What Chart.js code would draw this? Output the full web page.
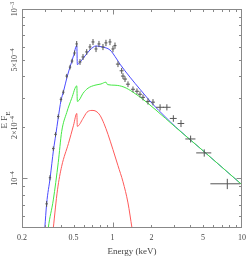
<!DOCTYPE html>
<html lang="en">
<head>
<meta charset="utf-8">
<title>E F_E spectrum</title>
<style>
  html, body { margin: 0; padding: 0; background: #fff; }
  #spec { display: block; }
</style>
</head>
<body>
<canvas id="spec" width="247" height="256"></canvas>
<script src="https://cdn.jsdelivr.net/npm/chart.js"></script>
<script>
// observed spectrum: energy (keV) and E F_E in units of 1e-4
const dataE    = [0.310,0.329,0.349,0.363,0.381,0.400,0.417,0.443,0.470,0.487,0.509,0.529,0.561,0.592,0.632,0.670,0.707,0.746,0.786,0.844,0.890,0.956,1.008,1.045,1.102,1.177,1.205,1.249,1.317,1.439,1.545,1.630,1.720,1.879,2.054,2.330,2.630,2.950,3.380,4.010,5.110,7.700];
const dataEerr = [0.007,0.007,0.008,0.008,0.008,0.009,0.009,0.010,0.010,0.011,0.011,0.012,0.015,0.016,0.017,0.018,0.019,0.020,0.021,0.023,0.024,0.026,0.027,0.028,0.040,0.042,0.043,0.045,0.047,0.052,0.056,0.059,0.062,0.068,0.074,0.160,0.180,0.180,0.200,0.360,0.680,2.000];
const dataF    = [0.708,1.01,1.50,1.82,2.32,2.93,3.23,4.02,4.54,4.93,5.50,6.22,4.87,5.21,5.58,5.97,6.39,5.81,6.22,5.97,6.31,6.39,5.81,6.08,4.73,4.32,4.02,3.86,3.60,3.36,3.27,3.14,3.01,2.85,2.82,2.63,2.63,2.26,2.11,1.71,1.415,0.93];
const dataFerr = [0.028,0.035,0.045,0.055,0.07,0.09,0.10,0.12,0.14,0.15,0.19,0.25,0.19,0.21,0.22,0.24,0.26,0.24,0.26,0.25,0.27,0.27,0.25,0.26,0.19,0.17,0.16,0.15,0.14,0.13,0.13,0.13,0.12,0.12,0.12,0.11,0.11,0.10,0.10,0.08,0.07,0.065];

// model: total (blue)
const totalE = [0.290,0.300,0.310,0.330,0.350,0.365,0.380,0.400,0.420,0.445,0.470,0.500,0.530,0.535,0.560,0.613,0.670,0.746,0.830,0.956,1.077,1.142,1.365,1.630,2.050,2.540,3.080,4.740,10.0];
const totalF = [0.37,0.51,0.71,1.01,1.47,1.82,2.25,2.88,3.30,3.95,4.55,5.30,6.10,4.70,4.85,5.28,5.73,6.05,5.97,5.73,5.07,4.73,3.96,3.36,2.74,2.32,2.01,1.51,0.918];
// model: power law (green)
const plE = [0.305,0.312,0.319,0.349,0.381,0.405,0.443,0.484,0.530,0.535,0.551,0.592,0.647,0.732,0.815,0.890,0.915,1.045,1.227,1.439,1.720,2.130,3.080,4.740,10.0];
const plF = [0.36,0.433,0.51,0.747,1.24,1.89,2.45,2.97,3.52,2.85,2.89,3.18,3.41,3.55,3.61,3.70,3.58,3.55,3.46,3.23,2.93,2.56,2.00,1.51,0.918];
// model: soft component (red)
const softE = [0.341,0.349,0.376,0.405,0.457,0.500,0.530,0.535,0.592,0.635,0.694,0.746,0.800,0.859,0.923,1.008,1.102,1.205,1.317,1.414,1.465];
const softF = [0.433,0.51,0.857,1.18,1.61,2.06,2.42,2.03,2.26,2.46,2.52,2.49,2.36,2.11,1.82,1.48,1.19,0.956,0.717,0.51,0.433];

const xTicks = [0.2, 0.5, 1, 2, 5, 10];
const xTickLabels = ['0.2', '0.5', '1', '2', '5', '10'];
const yTicks = [1e-4, 2e-4, 5e-4, 1e-3];
const yTickLabels = [['10', '\u22124'], ['2\u00d710', '\u22124'], ['5\u00d710', '\u22124'], ['10', '\u22123']];

const UNIT = 1e-4;
const FONT = '"Liberation Serif", serif';
const pts = (es, fs) => es.map((e, i) => ({ x: e, y: fs[i] * UNIT }));

function line(data, color) {
  return { data, borderColor: color, borderWidth: 1, showLine: true, pointRadius: 0,
           cubicInterpolationMode: 'monotone', fill: false };
}

function rotText(ctx, x, y, base, extra, shift, size) {
  ctx.save();
  ctx.translate(x, y);
  ctx.rotate(-Math.PI / 2);
  ctx.font = size + 'px ' + FONT;
  const w1 = ctx.measureText(base).width;
  ctx.font = (size - 2) + 'px ' + FONT;
  const w2 = extra ? ctx.measureText(extra).width : 0;
  const x0 = -(w1 + w2) / 2;
  ctx.textAlign = 'left';
  ctx.textBaseline = 'middle';
  ctx.font = size + 'px ' + FONT;
  ctx.fillText(base, x0, 0);
  if (extra) {
    ctx.font = (size - 2) + 'px ' + FONT;
    ctx.fillText(extra, x0 + w1, shift);
  }
  ctx.restore();
}

const frame = {
  id: 'frame',
  afterDatasetsDraw(chart) {
    const ctx = chart.ctx, xs = chart.scales.x, ys = chart.scales.y;
    ctx.save();
    ctx.strokeStyle = '#555';
    ctx.lineWidth = 1;
    dataE.forEach((e, i) => {
      const f = dataF[i] * UNIT, df = dataFerr[i] * UNIT;
      const px = xs.getPixelForValue(e), py = ys.getPixelForValue(f);
      ctx.beginPath();
      ctx.moveTo(xs.getPixelForValue(e - dataEerr[i]), py);
      ctx.lineTo(xs.getPixelForValue(e + dataEerr[i]), py);
      ctx.moveTo(px, ys.getPixelForValue(f - df));
      ctx.lineTo(px, ys.getPixelForValue(f + df));
      ctx.stroke();
    });
    ctx.restore();
  },
  afterDraw(chart) {
    const ctx = chart.ctx, a = chart.chartArea, xs = chart.scales.x, ys = chart.scales.y;
    ctx.save();
    ctx.strokeStyle = '#888';
    ctx.lineWidth = 1;
    const L = Math.round(a.left) + 0.5, R = Math.round(a.right) - 0.5;
    const T = Math.round(a.top) + 0.5, B = Math.round(a.bottom) - 0.5;
    ctx.strokeRect(L, T, R - L, B - T);

    ctx.beginPath();
    for (let d = -1; d <= 1; d++) {
      for (let m = 1; m <= 9; m++) {
        const v = m * Math.pow(10, d);
        if (v <= 0.2 || v >= 10) continue;
        const len = m === 1 ? 5 : 2.5;
        const px = Math.round(xs.getPixelForValue(v)) + 0.5;
        ctx.moveTo(px, B); ctx.lineTo(px, B - len);
        ctx.moveTo(px, T); ctx.lineTo(px, T + len);
      }
    }
    for (let d = -5; d <= -3; d++) {
      for (let m = 1; m <= 9; m++) {
        const v = m * Math.pow(10, d);
        if (v <= ys.min || v >= ys.max * 0.999) continue;
        const len = m === 1 ? 5 : 2.5;
        const py = Math.round(ys.getPixelForValue(v)) + 0.5;
        ctx.moveTo(L, py); ctx.lineTo(L + len, py);
        ctx.moveTo(R, py); ctx.lineTo(R - len, py);
      }
    }
    ctx.stroke();

    ctx.fillStyle = '#444';
    ctx.font = '8px ' + FONT;
    ctx.textAlign = 'center';
    ctx.textBaseline = 'alphabetic';
    xTicks.forEach((v, i) => ctx.fillText(xTickLabels[i], xs.getPixelForValue(v), 240));
    ctx.font = '9px ' + FONT;
    ctx.fillText('Energy (keV)', (a.left + a.right) / 2, 254);

    yTicks.forEach((v, i) => {
      rotText(ctx, 15, ys.getPixelForValue(v), yTickLabels[i][0], yTickLabels[i][1], -3, 8);
    });
    rotText(ctx, 5, 120, 'E F', 'E', 3, 9);
    ctx.restore();
  }
};

new Chart(document.getElementById('spec'), {
  type: 'scatter',
  data: {
    datasets: [
      line(pts(plE, plF), '#44e844'),
      line(pts(totalE, totalF), '#4a4aff'),
      line(pts(softE, softF), '#ff5a5a')
    ]
  },
  options: {
    responsive: false,
    animation: false,
    devicePixelRatio: 1,
    layout: { padding: { left: 22, right: 5, top: 9, bottom: 28 } },
    plugins: { legend: { display: false }, tooltip: { enabled: false } },
    scales: {
      x: { type: 'logarithmic', min: 0.2, max: 10, display: false },
      y: { type: 'logarithmic', min: 5.1e-5, max: 1e-3, display: false }
    }
  },
  plugins: [frame]
});
</script>
</body>
</html>
